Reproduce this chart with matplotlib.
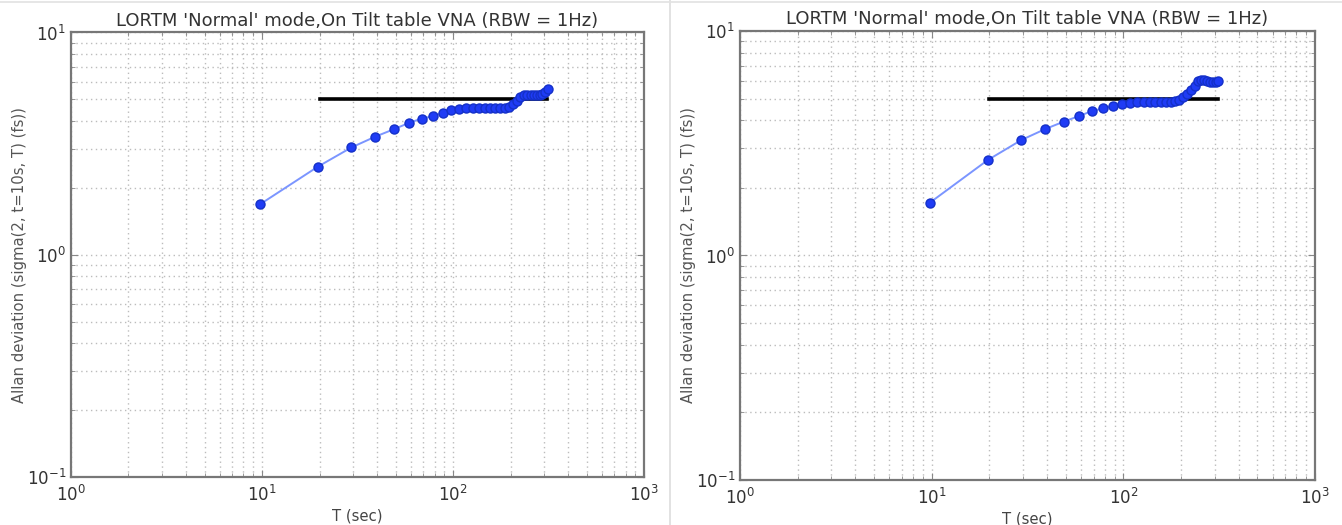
import numpy as np
import matplotlib
matplotlib.use('Agg')
import matplotlib.pyplot as plt
from matplotlib.lines import Line2D

# averaging times: multiples of the base interval
tau0 = 9.8
n = np.arange(1, 33)
T = tau0 * n

# Allan deviation, first run
adev_1 = [1.69, 2.49, 3.04, 3.40, 3.67, 3.92, 4.10, 4.20, 4.35, 4.47,
          4.54, 4.59, 4.56, 4.57, 4.57, 4.57, 4.57, 4.57, 4.58, 4.62,
          4.77, 4.90, 5.11, 5.24, 5.25, 5.25, 5.25, 5.25, 5.26, 5.28,
          5.40, 5.57]
# Allan deviation, second run
adev_2 = [1.72, 2.66, 3.27, 3.66, 3.95, 4.18, 4.40, 4.52, 4.65, 4.71,
          4.79, 4.81, 4.81, 4.81, 4.81, 4.81, 4.82, 4.83, 4.86, 4.94,
          5.10, 5.24, 5.48, 5.71, 5.97, 6.03, 6.03, 5.97, 5.95, 5.95,
          5.95, 5.97]

# requirement line
req_T = [20, 310]
req_val = [5.0, 5.0]

title = "LORTM 'Normal' mode,On Tilt table VNA (RBW = 1Hz)"
ylabel = "Allan deviation (sigma(2, t=10s, T) (fs))"
xlabel = "T (sec)"

plt.rcParams['font.family'] = ['DejaVu Sans']
fig = plt.figure(figsize=(13.42, 5.25), dpi=100)

panels = [([0.0529, 0.0914, 0.4270, 0.8467], adev_1),
          ([0.5514, 0.0857, 0.4285, 0.8553], adev_2)]

for rect, adev in panels:
    ax = fig.add_axes(rect)
    ax.plot(req_T, req_val, color='black', lw=2.6, zorder=3)
    ax.plot(T, adev, '-', color='#7b95ff', lw=1.4, zorder=4)
    ax.plot(T, adev, 'o', color='#1f3cf5', mec='#1430c8', ms=6.5, zorder=5)
    ax.set_xscale('log')
    ax.set_yscale('log')
    ax.set_xlim(1, 1000)
    ax.set_ylim(0.1, 10)
    ax.grid(True, which='both', ls=(0, (1, 2.5)), color='#bcbcbc', lw=1.0)
    ax.tick_params(which='both', direction='in', top=True, right=True,
                   colors='#888888', labelcolor='#333333', labelsize=12)
    ax.tick_params(which='major', length=5)
    ax.tick_params(which='minor', length=3)
    ax.tick_params(axis='x', which='major', pad=6)
    for s in ax.spines.values():
        s.set_color('#777777')
        s.set_linewidth(1.6)
    ax.set_title(title, fontsize=13, color='#333333', pad=5)
    ax.set_ylabel(ylabel, fontsize=10.7, color='#555555')
    ax.yaxis.set_label_coords(-0.077, 0.5)
    ax.set_xlabel(xlabel, fontsize=10.7, color='#444444', labelpad=2)

# separator between the two panels and top border
fig.add_artist(Line2D([670 / 1342, 670 / 1342], [0, 1], color='#dddddd', lw=1.2,
                      transform=fig.transFigure))
fig.add_artist(Line2D([0, 1], [1 - 2 / 525, 1 - 2 / 525], color='#e2e2e2', lw=1.2,
                      transform=fig.transFigure))

fig.savefig('out.png', dpi=100, facecolor='white')
